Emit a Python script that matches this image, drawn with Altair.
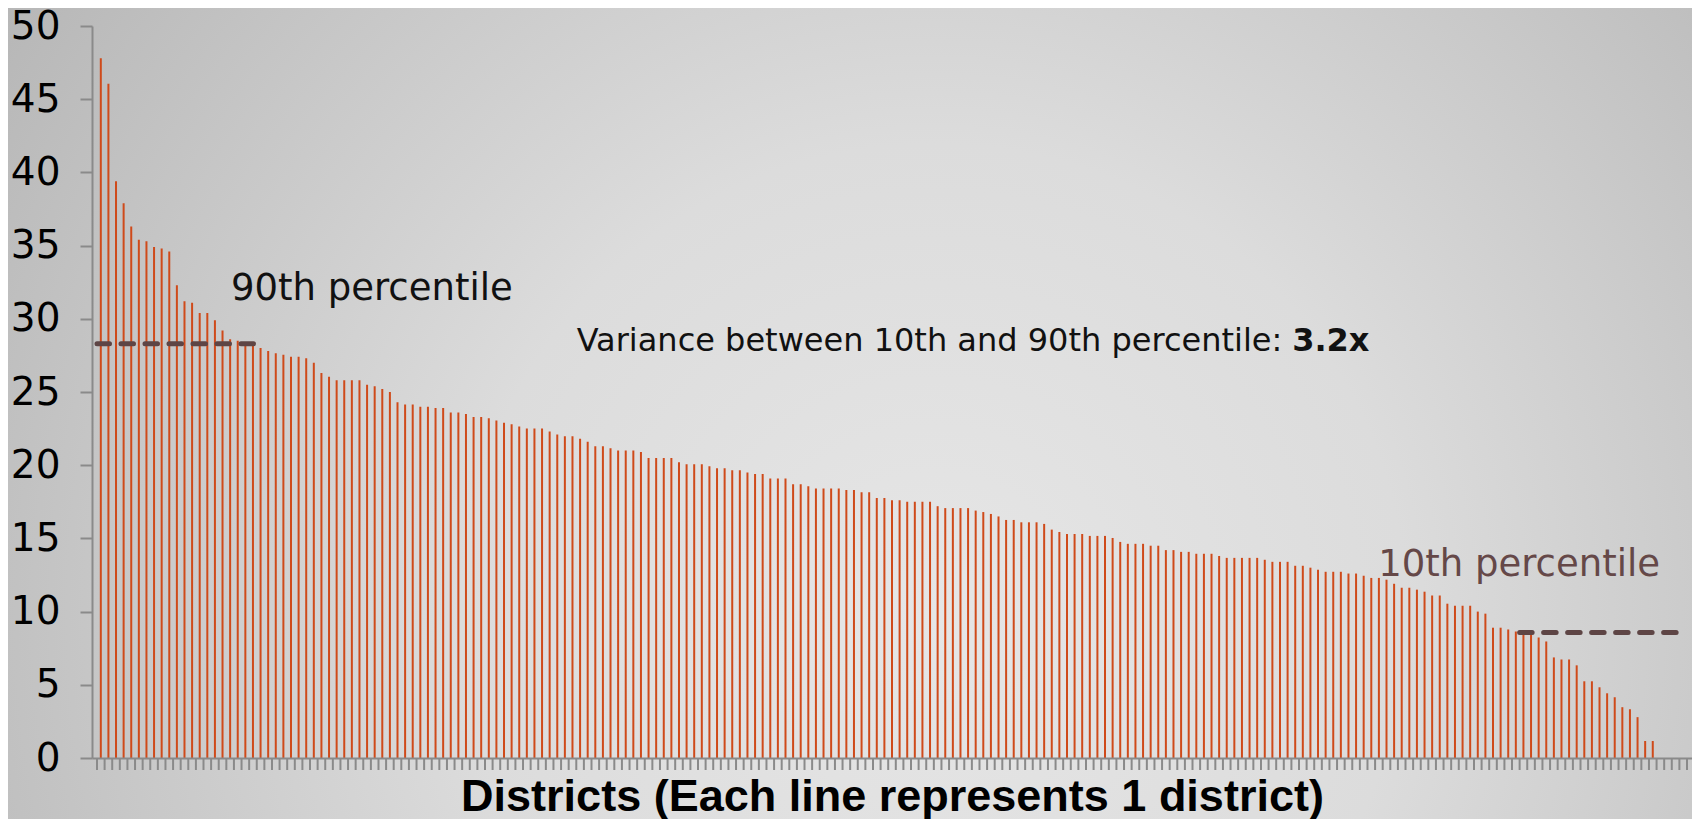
import altair as alt
import pandas as pd

# District values (sorted descending)
values = [
    47.8, 46.05, 39.4, 37.9, 36.3, 35.4, 35.3, 34.9, 34.8, 34.6,
    32.3, 31.2, 31.1, 30.4, 30.4, 29.9, 29.2, 28.6, 28.5, 28.4,
    28.3, 28.0, 27.8, 27.65, 27.55, 27.4, 27.4, 27.3, 27.0, 26.3,
    26.05, 25.8, 25.8, 25.8, 25.8, 25.5, 25.4, 25.2, 25.0, 24.3,
    24.15, 24.15, 24.0, 24.0, 23.9, 23.9, 23.6, 23.6, 23.5, 23.3,
    23.3, 23.2, 23.05, 22.9, 22.8, 22.65, 22.5, 22.5, 22.5, 22.3,
    22.1, 21.97, 21.97, 21.8, 21.6, 21.3, 21.3, 21.16, 21.0, 21.0,
    21.0, 20.9, 20.5, 20.5, 20.5, 20.5, 20.2, 20.07, 20.07, 20.07,
    19.93, 19.8, 19.8, 19.66, 19.66, 19.5, 19.4, 19.4, 19.1, 19.1,
    19.1, 18.7, 18.7, 18.57, 18.4, 18.4, 18.4, 18.4, 18.3, 18.3,
    18.16, 18.16, 17.76, 17.76, 17.6, 17.6, 17.5, 17.5, 17.5, 17.5,
    17.2, 17.07, 17.07, 17.07, 17.07, 16.9, 16.8, 16.67, 16.5, 16.26,
    16.26, 16.1, 16.1, 16.1, 15.99, 15.6, 15.44, 15.3, 15.3, 15.3,
    15.17, 15.17, 15.17, 15.03, 14.76, 14.63, 14.63, 14.63, 14.5, 14.5,
    14.2, 14.2, 14.08, 14.08, 13.95, 13.95, 13.95, 13.8, 13.67, 13.67,
    13.67, 13.67, 13.67, 13.54, 13.4, 13.4, 13.4, 13.13, 13.13, 13.0,
    12.86, 12.72, 12.72, 12.72, 12.6, 12.6, 12.45, 12.3, 12.3, 12.18,
    11.9, 11.63, 11.63, 11.5, 11.36, 11.1, 11.1, 10.54, 10.4, 10.4,
    10.4, 10.0, 9.86, 8.9, 8.9, 8.78, 8.64, 8.5, 8.4, 8.23,
    7.96, 6.87, 6.73, 6.73, 6.33, 5.24, 5.24, 4.83, 4.42, 4.15,
    3.47, 3.33, 2.79, 1.16, 1.16, 0, 0, 0, 0,
]
district = list(range(len(values)))

pct_labels = ["90th percentile", "10th percentile"]
pct_values = [28.3, 8.57]
pct_start = [-0.5, 186.5]
pct_end = [20.2, 208.5]

y_ticks = [0, 5, 10, 15, 20, 25, 30, 35, 40, 45, 50]
x_title = "Districts (Each line represents 1 district)"
variance_text = "Variance between 10th and 90th percentile:"
variance_value = "3.2x"

n = len(values)
boundaries = [i - 0.5 for i in range(n + 1)]

W, H = 1600, 732
PAD = {"left": 84, "top": 18, "right": 0, "bottom": 61}
AXIS_GREY = "#8A8A8A"

df = pd.DataFrame({"district": district, "value": values})
pct_df = pd.DataFrame({"label": pct_labels, "p": pct_values, "x0": pct_start, "x1": pct_end})
tick_df = pd.DataFrame({"b": boundaries})

x_scale = alt.Scale(domain=[-0.5, n - 0.5], nice=False, zero=False)
y_scale = alt.Scale(domain=[0, 50], nice=False)

bg = alt.Chart(pd.DataFrame({"a": [0]})).mark_rect(
    fill=alt.RadialGradient(
        gradient="radial",
        stops=[alt.GradientStop(color="#E6E6E6", offset=0),
               alt.GradientStop(color="#DCDCDC", offset=0.35),
               alt.GradientStop(color="#A9A9A9", offset=1)],
        x1=0.55, y1=0.62, r1=0, x2=0.55, y2=0.62, r2=0.8,
    )
).encode(
    x=alt.value(-PAD["left"]), x2=alt.value(W + PAD["right"]),
    y=alt.value(-PAD["top"]), y2=alt.value(H + PAD["bottom"]),
)

bars = alt.Chart(df).mark_bar(color="#CF4A1A", width=2).encode(
    x=alt.X("district:Q", scale=x_scale, axis=alt.Axis(
        labels=False, ticks=False, grid=False,
        domainColor=AXIS_GREY, domainWidth=2, zindex=1,
        title=x_title, titleFont="Liberation Sans Narrow, Arial Narrow, sans-serif",
        titleFontSize=45, titleFontWeight="bold", titleColor="#000000",
        titleBaseline="alphabetic", titleY=52,
    )),
    y=alt.Y("value:Q", scale=y_scale, axis=alt.Axis(
        values=y_ticks, grid=False, tickSize=12, tickColor=AXIS_GREY, tickWidth=2,
        domainColor=AXIS_GREY, domainWidth=2, labelFont="DejaVu Sans", zindex=1,
        labelFontSize=39, labelColor="#000000", labelPadding=20, title=None,
    )),
)

x_ticks = alt.Chart(tick_df).mark_rule(color=AXIS_GREY, strokeWidth=2).encode(
    x=alt.X("b:Q", scale=x_scale), y=alt.value(H), y2=alt.value(H + 12)
)

rules = alt.Chart(pct_df).mark_rule(
    strokeWidth=5, strokeDash=[12.5, 11.5], strokeCap="round", color="#5E4545"
).encode(
    x=alt.X("x0:Q", scale=x_scale), x2="x1:Q", y=alt.Y("p:Q", scale=y_scale)
)

text_df = pd.DataFrame({
    "t": [pct_labels[0], pct_labels[1]],
    "x": [17.1, 167.9],
    "y": [31.3, 12.4],
    "c": ["#111111", "#654848"],
})
pct_text = alt.Chart(text_df).mark_text(
    font="DejaVu Sans", fontSize=37, align="left", baseline="alphabetic"
).encode(
    x=alt.X("x:Q", scale=x_scale), y=alt.Y("y:Q", scale=y_scale),
    text="t:N", color=alt.Color("c:N", scale=None),
)

var_df = pd.DataFrame({"t": [variance_text], "x": [155.3], "y": [27.8]})
var_text = alt.Chart(var_df).mark_text(
    font="DejaVu Sans", fontSize=32, align="right", baseline="alphabetic", color="#111111"
).encode(x=alt.X("x:Q", scale=x_scale), y=alt.Y("y:Q", scale=y_scale), text="t:N")

val_df = pd.DataFrame({"t": [variance_value], "x": [156.6], "y": [27.8]})
val_text = alt.Chart(val_df).mark_text(
    font="DejaVu Sans", fontSize=32, fontWeight="bold", align="left",
    baseline="alphabetic", color="#111111"
).encode(x=alt.X("x:Q", scale=x_scale), y=alt.Y("y:Q", scale=y_scale), text="t:N")

chart = alt.layer(bg, bars, x_ticks, rules, pct_text, var_text, val_text).properties(
    width=W, height=H, padding=PAD, autosize="none", background="#B8B8B8"
).configure_view(stroke=None)

chart.save("out.html", embed_options={"renderer": "svg", "actions": False})
